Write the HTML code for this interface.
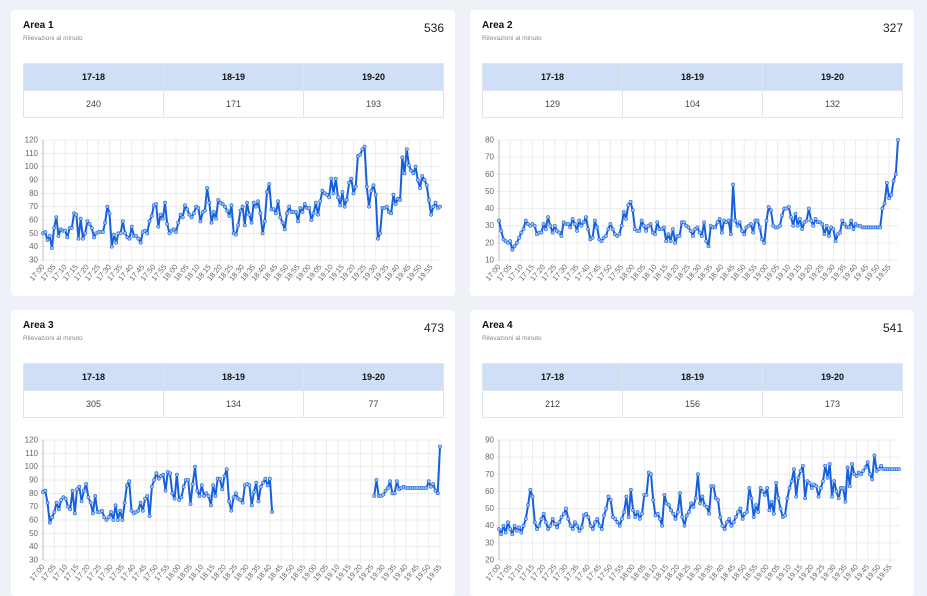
<!DOCTYPE html>
<html><head><meta charset="utf-8">
<style>
*{margin:0;padding:0;box-sizing:border-box}
body{width:927px;height:516px;overflow:hidden;background:#eef1f7;font-family:"Liberation Sans",sans-serif;position:relative}
.card{position:absolute;width:444px;height:286px;background:#fff;border-radius:4px}
.title{position:absolute;left:12px;top:10px;font-size:10px;font-weight:bold;color:#111}
.sub{position:absolute;left:12px;top:25px;font-size:6.5px;color:#888}
.total{position:absolute;right:11px;top:11px;font-size:12px;color:#222}
table{position:absolute;left:12px;top:53px;width:421px;border-collapse:collapse;font-size:9px;text-align:center}
th{background:#cfe0f6;height:27px;font-weight:bold;color:#111;border:1px solid #dfe5ee}
td{height:27px;color:#444;border:1px solid #dfe5ee}
svg{position:absolute;left:0;top:0}
</style></head><body>
<div class="card" style="left:11px;top:10px">
<div class="title">Area 1</div>
<div class="sub">Rilevazioni al minuto</div>
<div class="total">536</div>
<table><tr><th>17-18</th><th>18-19</th><th>19-20</th></tr><tr><td>240</td><td>171</td><td>193</td></tr></table>
<svg id="c1" width="444" height="286"></svg>
</div>
<div class="card" style="left:470px;top:10px">
<div class="title">Area 2</div>
<div class="sub">Rilevazioni al minuto</div>
<div class="total">327</div>
<table><tr><th>17-18</th><th>18-19</th><th>19-20</th></tr><tr><td>129</td><td>104</td><td>132</td></tr></table>
<svg id="c2" width="444" height="286"></svg>
</div>
<div class="card" style="left:11px;top:310px">
<div class="title">Area 3</div>
<div class="sub">Rilevazioni al minuto</div>
<div class="total">473</div>
<table><tr><th>17-18</th><th>18-19</th><th>19-20</th></tr><tr><td>305</td><td>134</td><td>77</td></tr></table>
<svg id="c3" width="444" height="286"></svg>
</div>
<div class="card" style="left:470px;top:310px">
<div class="title">Area 4</div>
<div class="sub">Rilevazioni al minuto</div>
<div class="total">541</div>
<table><tr><th>17-18</th><th>18-19</th><th>19-20</th></tr><tr><td>212</td><td>156</td><td>173</td></tr></table>
<svg id="c4" width="444" height="286"></svg>
</div>
<script>
const data1=[50,51,45,48,39,54,62,48,53,52,52,47,54,54,65,64,46,61,46,50,59,57,54,47,50,51,51,51,58,70,65,40,49,43,50,50,59,50,47,46,55,48,48,46,43,51,52,50,59,63,71,72,55,64,61,73,57,50,52,53,51,58,64,62,71,68,64,62,65,70,69,59,66,67,84,73,58,66,61,75,73,72,70,67,63,71,50,49,56,67,70,56,73,64,58,73,70,74,65,50,59,81,87,68,68,65,74,62,58,53,65,70,66,66,66,59,69,66,72,69,69,60,65,73,64,74,82,80,79,77,91,80,91,77,71,81,70,75,88,91,80,85,108,109,113,115,85,70,82,86,79,46,50,69,69,70,66,65,79,72,76,75,107,95,113,101,97,95,100,90,84,93,90,86,75,64,70,73,69,70];
const data2=[33,27,22,21,20,21,16,18,20,23,26,28,33,31,30,31,30,25,26,26,31,28,35,30,26,30,27,26,24,32,31,31,29,34,31,27,33,30,32,35,28,22,23,33,29,22,21,23,24,28,31,28,25,24,25,30,38,34,42,44,39,28,27,27,33,30,27,30,31,26,25,32,28,28,29,21,25,21,28,20,24,24,32,32,30,29,27,24,28,29,26,24,32,21,18,30,29,29,32,34,26,33,32,33,25,54,33,30,32,27,25,29,30,31,26,33,33,29,22,20,33,41,39,30,29,29,30,36,40,40,41,35,30,37,30,34,28,32,33,40,33,30,34,32,32,31,25,30,24,29,28,21,25,26,33,31,29,29,33,28,31,30,30,29,29,29,29,29,29,29,29,29,40,43,55,46,48,56,60,80];
const data3=[81,82,73,58,62,66,73,68,75,77,76,70,68,82,65,83,85,74,82,87,77,73,65,78,66,66,67,62,60,62,66,60,71,60,67,60,73,86,89,67,65,66,67,73,67,76,78,63,85,90,95,91,93,94,82,96,95,80,76,94,75,77,85,90,90,72,87,100,82,78,86,78,80,78,71,86,78,91,91,83,93,98,74,67,77,80,76,75,73,86,87,86,71,81,88,74,85,88,91,86,91,66,null,null,null,null,null,null,null,null,null,null,null,null,null,null,null,null,null,null,null,null,null,null,null,null,null,null,null,null,null,null,null,null,null,null,null,null,null,null,null,null,null,null,null,null,78,90,78,78,79,82,84,89,80,80,89,83,84,85,84,84,84,84,84,84,84,84,84,84,89,85,87,82,80,115];
const data4=[38,35,40,36,42,38,35,40,37,39,36,40,44,52,61,57,42,38,40,44,47,42,38,40,44,41,39,42,45,47,50,44,40,38,42,40,37,39,46,47,45,40,38,42,44,40,38,46,50,57,55,45,44,42,40,44,48,57,45,61,49,45,48,44,47,58,58,71,70,55,46,47,44,40,58,53,52,49,47,44,48,59,45,40,46,48,53,51,56,70,53,57,52,51,47,63,63,56,55,45,40,38,42,44,40,42,45,48,50,44,47,48,62,56,45,52,48,62,60,58,62,49,54,47,65,56,50,45,46,56,62,66,73,57,68,72,75,56,66,65,62,64,63,57,62,66,75,68,76,57,66,60,56,62,62,54,74,63,76,70,69,71,70,72,74,77,70,67,81,72,73,75,73,73,73,73,73,73,73,73];
const yTicks1=[30,40,50,60,70,80,90,100,110,120];
const yTicks2=[10,20,30,40,50,60,70,80];
const yTicks4=[20,30,40,50,60,70,80,90];
const timeLabels=[];
for(let h=17;h<20;h++)for(let m=0;m<60;m+=5)timeLabels.push(h+':'+(m<10?'0':'')+m);

const NS='http://www.w3.org/2000/svg';
function mk(svg,tag,attrs){const e=document.createElementNS(NS,tag);for(const k in attrs)e.setAttribute(k,attrs[k]);svg.appendChild(e);return e;}
function draw(id,data,yTicks,x0,x1){
  const svg=document.getElementById(id);
  const top=130,bot=250;
  const ymin=yTicks[0],ymax=yTicks[yTicks.length-1];
  const n=data.length;
  const xs=i=>x0+(x1-x0)*i/(n-1);
  const ys=v=>bot-(v-ymin)/(ymax-ymin)*(bot-top);
  yTicks.forEach(t=>{
    const l=mk(svg,'line',{x1:x0-3,x2:x1,y1:ys(t),y2:ys(t),stroke:'#ececec','stroke-width':1});
    
    
    const tx=mk(svg,'text',{x:x0-5,y:ys(t)+2.5,'text-anchor':'end','font-size':8,fill:'#666'});
    tx.textContent=t;
    
    
  });
  timeLabels.forEach((lab,k)=>{
    const x=xs(k*5);
    const l=mk(svg,'line',{x1:x,x2:x,y1:top,y2:bot+3,stroke:'#ececec','stroke-width':1});
    
    
    const tx=mk(svg,'text',{x:x+2,y:bot+7,'text-anchor':'end','font-size':7.5,fill:'#666',transform:`rotate(-50 ${x+2} ${bot+7})`});
    tx.textContent=lab;
    
    
  });
  const ax=mk(svg,'line',{x1:x0,x2:x0,y1:top,y2:bot,stroke:'#bbb','stroke-width':1});
  
  
  let d='',pen=false;
  data.forEach((v,i)=>{if(v==null){pen=false;return;}d+=(pen?'L':'M')+xs(i).toFixed(1)+' '+ys(v).toFixed(1);pen=true;});
  const p=mk(svg,'path',{d:d,fill:'none',stroke:'#1660dc','stroke-width':2,'stroke-linejoin':'round'});
  
  
  data.forEach((v,i)=>{if(v==null)return;
    const c=mk(svg,'circle',{cx:xs(i),cy:ys(v),r:1.6,fill:'#9fc0f2',stroke:'#1660dc','stroke-width':0.6});
    
    
  });
}
draw('c1',data1,yTicks1,32,429);
draw('c2',data2,yTicks2,29,428);
draw('c3',data3,yTicks1,32,429);
draw('c4',data4,yTicks4,29,429);
</script>
</body></html>
